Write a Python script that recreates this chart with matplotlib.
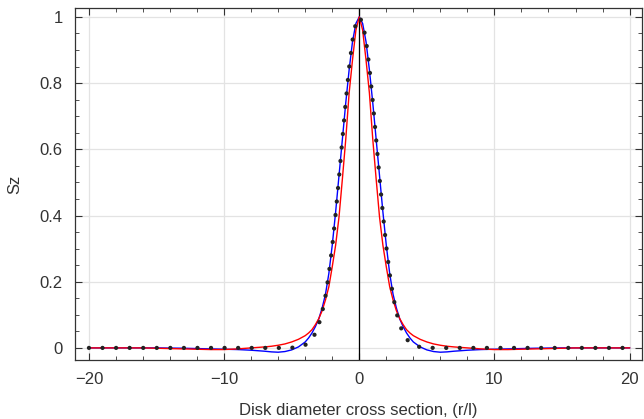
import numpy as np
import matplotlib
matplotlib.use("Agg")
import matplotlib.pyplot as plt
from matplotlib.ticker import MultipleLocator

plt.rcParams['font.family'] = ['Liberation Sans', 'DejaVu Sans']

# half-profiles (x >= 0), mirrored for x < 0
x_half = [0, 0.25, 0.5, 0.75, 1, 1.25, 1.5, 1.75, 2, 2.25, 2.5, 2.75, 3, 3.25,
          3.5, 3.75, 4, 4.5, 5, 5.5, 6, 6.5, 7, 8, 9, 10, 11, 12, 13, 14, 15,
          16, 17, 18, 19, 20]

sz_blue = [1.0, 0.98, 0.925, 0.84, 0.74, 0.63, 0.52, 0.41, 0.31, 0.225, 0.162,
           0.12, 0.087, 0.064, 0.045, 0.03, 0.018, 0.003, -0.006, -0.011,
           -0.013, -0.012, -0.010, -0.007, -0.005, -0.004, -0.003, -0.002,
           -0.001, -0.0005, 0, 0, 0, 0, 0, 0]

sz_red = [1.0, 0.96, 0.87, 0.77, 0.63, 0.51, 0.395, 0.31, 0.245, 0.185, 0.145,
          0.112, 0.088, 0.07, 0.055, 0.045, 0.037, 0.026, 0.018, 0.012, 0.008,
          0.005, 0.003, 0.0, -0.003, -0.005, -0.005, -0.004, -0.003, -0.002,
          -0.001, 0, 0, 0, 0, 0]

sz_dots = [1.0, 0.982, 0.929, 0.847, 0.744, 0.63, 0.514, 0.404, 0.306, 0.224,
           0.157, 0.107, 0.07, 0.044, 0.027, 0.016, 0.009, 0.0025, 0.0006, 0,
           0, 0, 0, 0, 0, 0, 0, 0, 0, 0, 0, 0, 0, 0, 0, 0]


def mirror(xs, ys):
    xs = np.asarray(xs, float)
    ys = np.asarray(ys, float)
    return np.concatenate([-xs[:0:-1], xs]), np.concatenate([ys[:0:-1], ys])


fig = plt.figure(figsize=(6.44, 4.19), dpi=100)
ax = fig.add_axes([0.1165, 0.141, 0.88, 0.840])

gray = "#333333"

xb, yb = mirror(x_half, sz_blue)
xr, yr = mirror(x_half, sz_red)
xd, yd = mirror(x_half, sz_dots)

ax.axvline(0, color="black", lw=0.9, zorder=2)
ax.plot(xb, yb, color="blue", lw=1.0, zorder=3)
ax.plot(xr, yr, color="red", lw=1.0, zorder=4)
ax.plot(xd, yd, color="#222222", lw=3.1, linestyle=(0, (0.01, 3.14)),
        dash_capstyle="round", zorder=5)

ax.set_xlim(-21.03, 20.9)
ax.set_ylim(-0.0363, 1.027)

ax.xaxis.set_minor_locator(MultipleLocator(2))
ax.yaxis.set_minor_locator(MultipleLocator(0.05))
ax.set_yticks([0, 0.2, 0.4, 0.6, 0.8, 1])
ax.set_yticklabels(["0", "0.2", "0.4", "0.6", "0.8", "1"])
ax.set_xticks([-20, -10, 0, 10, 20])
ax.set_xticklabels(["\u221220", "\u221210", "0", "10", "20"])

ax.grid(True, which="major", color="#e3e3e3", lw=0.9)
ax.set_axisbelow(True)
ax.tick_params(which="both", direction="in", top=True, right=True,
               colors=gray, labelcolor=gray, labelsize=12)
ax.tick_params(which="major", length=5, width=0.8, pad=9)
ax.tick_params(which="minor", length=3, width=0.6)
for s in ax.spines.values():
    s.set_color(gray)
    s.set_linewidth(0.9)

ax.set_xlabel("Disk diameter cross section, (r/l)", fontsize=12, color=gray,
              labelpad=11)
ax.set_ylabel("Sz", fontsize=12, color=gray, labelpad=12)

fig.savefig("out.png", dpi=100)
